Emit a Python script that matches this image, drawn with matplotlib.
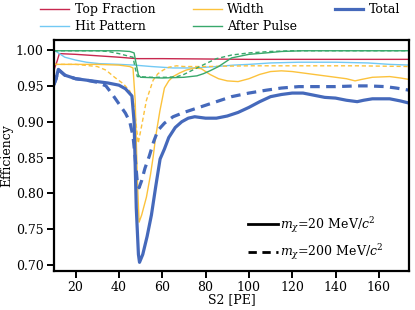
import matplotlib
matplotlib.use("Agg")
import matplotlib.pyplot as plt
from matplotlib.lines import Line2D

plt.rcParams['font.family'] = ['DejaVu Serif']
plt.rcParams['mathtext.fontset'] = 'dejavuserif'
plt.rcParams['font.size'] = 9

# ---- data ----
tot20_x = [10, 11, 12, 15, 20, 25, 30, 35, 40, 43, 46, 47, 48, 49, 49.5, 51, 53, 55, 57, 59, 61, 63, 66, 69, 72, 75,
           80, 85, 90, 95, 100, 105, 110, 115, 120, 125, 130, 135, 140, 145, 150, 153, 157, 165, 170, 174]
tot20_y = [0.952, 0.960, 0.973, 0.965, 0.960, 0.958, 0.956, 0.954, 0.951, 0.946, 0.936, 0.900, 0.780, 0.715, 0.704,
           0.715, 0.740, 0.770, 0.810, 0.848, 0.862, 0.878, 0.892, 0.900, 0.905, 0.907, 0.905, 0.905, 0.908, 0.913,
           0.920, 0.928, 0.935, 0.938, 0.940, 0.940, 0.937, 0.934, 0.933, 0.930, 0.928, 0.930, 0.932, 0.932, 0.929, 0.926]

tot200_x = [10, 11, 12, 15, 20, 25, 30, 34, 37, 40, 43, 45, 46.5, 47.5, 48.5, 49.3, 50.5, 52, 54, 56, 58, 61, 65, 70,
            76, 85, 92, 100, 108, 115, 123, 140, 150, 155, 163, 168, 174]
tot200_y = [0.952, 0.960, 0.973, 0.965, 0.960, 0.958, 0.955, 0.950, 0.938, 0.925, 0.912, 0.900, 0.880, 0.850, 0.815,
            0.808, 0.818, 0.835, 0.852, 0.872, 0.888, 0.898, 0.907, 0.913, 0.919, 0.928, 0.935, 0.940, 0.944, 0.947,
            0.949, 0.949, 0.950, 0.950, 0.949, 0.947, 0.944]

wid20_x = [10, 20, 30, 40, 45, 46.5, 47.5, 48.5, 49.3, 50.5, 52.7, 54.5, 55.8, 57, 58.9, 61, 63, 65, 68, 71, 75, 78,
           82, 86, 90, 95, 100, 105, 110, 115, 120, 125, 130, 135, 140, 145, 149, 152, 157, 165, 170, 174]
wid20_y = [0.980, 0.980, 0.980, 0.979, 0.977, 0.975, 0.930, 0.820, 0.760, 0.770, 0.795, 0.825, 0.851, 0.880, 0.915,
           0.947, 0.957, 0.963, 0.968, 0.972, 0.975, 0.974, 0.966, 0.960, 0.957, 0.956, 0.960, 0.966, 0.970, 0.971,
           0.970, 0.968, 0.966, 0.964, 0.962, 0.960, 0.957, 0.959, 0.962, 0.963, 0.961, 0.959]

wid200_x = [10, 20, 30, 34, 38, 42, 45, 46.6, 47.8, 48.9, 50.4, 52.7, 55.8, 58, 60.4, 63, 66.6, 70, 80, 100, 130, 150, 174]
wid200_y = [0.980, 0.980, 0.977, 0.972, 0.962, 0.953, 0.943, 0.930, 0.900, 0.870, 0.893, 0.930, 0.958, 0.967, 0.972,
            0.976, 0.978, 0.977, 0.977, 0.978, 0.978, 0.978, 0.977]

hit_x = [10, 12, 15, 20, 25, 31, 40, 47, 55, 65, 75, 85, 93, 100, 110, 123, 140, 155, 165, 174]
hit_y = [1.000, 0.996, 0.990, 0.986, 0.983, 0.981, 0.980, 0.979, 0.977, 0.975, 0.975, 0.977, 0.979, 0.980, 0.982,
         0.983, 0.983, 0.982, 0.980, 0.979]

top_x = [10, 11.5, 12.5, 20, 30, 40, 48, 60, 100, 174]
top_y = [0.972, 0.985, 0.995, 0.994, 0.992, 0.990, 0.988, 0.988, 0.987, 0.987]

ap20_x = [10, 30, 40, 45, 47, 48, 49, 50, 60, 70, 76, 79, 82, 86, 92, 100, 108, 115, 125, 174]
ap20_y = [0.999, 0.999, 0.999, 0.998, 0.996, 0.980, 0.965, 0.962, 0.961, 0.962, 0.964, 0.967, 0.971, 0.977, 0.989,
          0.994, 0.996, 0.998, 0.999, 0.999]

ap200_x = [10, 30, 35, 40, 45, 46.5, 47.5, 48.5, 55, 62, 67, 70, 74, 78, 85, 92, 100, 110, 120, 174]
ap200_y = [0.999, 0.999, 0.998, 0.995, 0.991, 0.990, 0.975, 0.963, 0.962, 0.962, 0.963, 0.966, 0.972, 0.978, 0.988,
           0.993, 0.996, 0.998, 0.999, 0.999]

c_top = "#c8284f"
c_hit = "#72c9f4"
c_wid = "#fcc23c"
c_ap = "#38a86b"
c_tot = "#4569bb"

fig = plt.figure(figsize=(4.15, 3.10), dpi=100)
ax = fig.add_axes([0.130, 0.126, 0.856, 0.745])

lw = 1.0
l1, = ax.plot(top_x, top_y, color=c_top, lw=lw, label="Top Fraction")
l2, = ax.plot(hit_x, hit_y, color=c_hit, lw=lw, label="Hit Pattern")
l3, = ax.plot(wid20_x, wid20_y, color=c_wid, lw=lw, label="Width")
ax.plot(wid200_x, wid200_y, color=c_wid, lw=lw, ls=(0, (3, 2)))
l4, = ax.plot(ap20_x, ap20_y, color=c_ap, lw=lw, label="After Pulse")
ax.plot(ap200_x, ap200_y, color=c_ap, lw=lw, ls=(0, (3, 2)))
l5, = ax.plot(tot20_x, tot20_y, color=c_tot, lw=2.3, label="Total")
ax.plot(tot200_x, tot200_y, color=c_tot, lw=2.3, ls=(0, (3, 2)))

ax.set_xlim(10, 174)
ax.set_ylim(0.692, 1.014)
ax.set_xticks([20, 40, 60, 80, 100, 120, 140, 160])
ax.set_yticks([0.70, 0.75, 0.80, 0.85, 0.90, 0.95, 1.00])
ax.set_xlabel("S2 [PE]", labelpad=-1)
ax.set_ylabel("Efficiency", labelpad=2)
for s in ax.spines.values():
    s.set_linewidth(1.6)
ax.tick_params(width=1.4, length=5, direction='out', pad=2.5)

leg1 = fig.legend(handles=[l1, l2, l3, l4, l5], loc='upper left', bbox_to_anchor=(0.085, 1.005), ncol=3,
                  frameon=False, handlelength=2.3, handletextpad=0.45, columnspacing=3.0, labelspacing=0.3,
                  borderaxespad=0)

h20 = Line2D([], [], color='black', lw=2.0)
h200 = Line2D([], [], color='black', lw=2.0, ls=(0, (3, 2)))
ax.legend(handles=[h20, h200], labels=[r"$m_\chi$=20 MeV/$c^2$", r"$m_\chi$=200 MeV/$c^2$"],
          loc='lower right', frameon=False, handlelength=2.4, handletextpad=0.2, labelspacing=0.6,
          bbox_to_anchor=(0.96, -0.01))

fig.savefig("out.png", dpi=100)
